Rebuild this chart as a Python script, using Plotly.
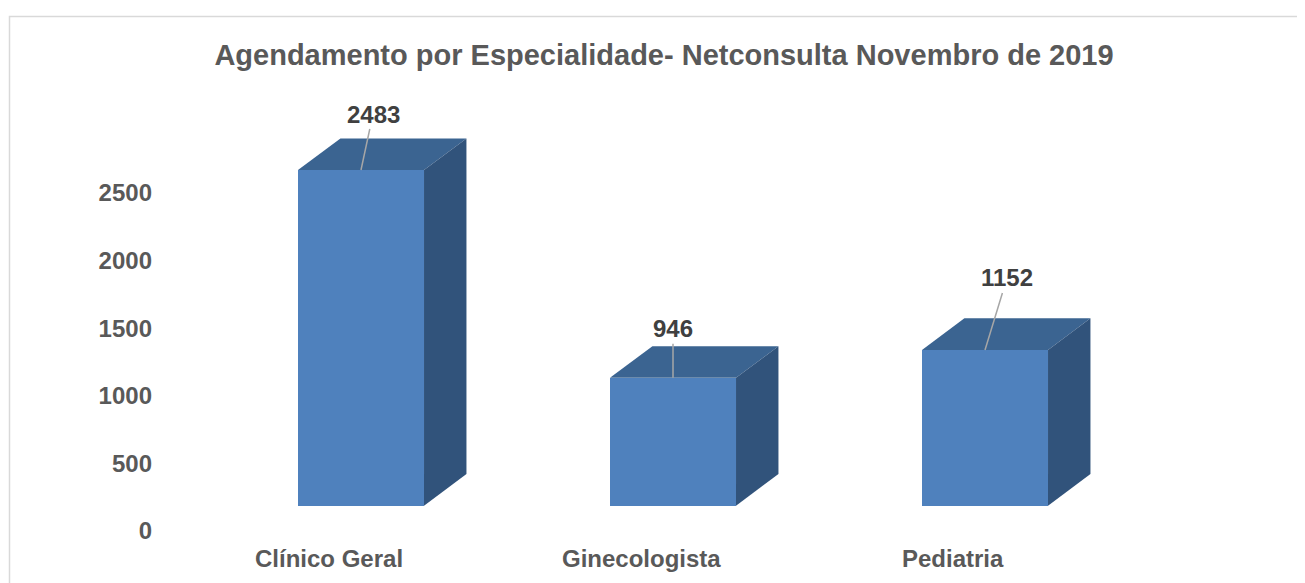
import plotly.graph_objects as go

categories = ["Clínico Geral", "Ginecologista", "Pediatria"]
values = [2483, 946, 1152]
y_ticks = [0, 500, 1000, 1500, 2000, 2500]
title_text = "Agendamento por Especialidade- Netconsulta Novembro de 2019"

# style / geometry constants
BASE = 187          # floor offset of front faces (3D look)
BAR_W = 0.404
DX = 0.136          # depth in x units
DY = 234            # depth in y units
FRONT = "#4F81BD"
TOP = "#3B6491"
SIDE = "#31537B"
LABEL_SHIFT = -0.101
label_offsets = [(12, -56), (0, -49), (22, -72)]
label_points = [0.0, 0.0, 0.0]

OFF = 8  # page body margin
W, H = 1305 - OFF, 583 - OFF
L, R, T, B = 160 - OFF, 15, 80 - OFF, 52
pw = W - L - R
ph = H - T - B
x_range = [-(361 - 160) / 312, -(361 - 160) / 312 + pw / 312]
y_range = [0, ph / 0.1352]

FONT = "Liberation Sans, Arial"

fig = go.Figure()

fig.add_trace(go.Bar(
    x=list(range(len(values))), y=values, base=[BASE] * len(values),
    width=BAR_W, marker=dict(color=FRONT, line=dict(width=0)),
    hoverinfo="skip", showlegend=False))

for i, v in enumerate(values):
    x0, x1 = i - BAR_W / 2, i + BAR_W / 2
    yb, yt = BASE, BASE + v
    fig.add_trace(go.Scatter(
        x=[x0, x1, x1 + DX, x0 + DX, x0], y=[yt, yt, yt + DY, yt + DY, yt],
        fill="toself", fillcolor=TOP, mode="lines", line=dict(width=0, color=TOP),
        hoverinfo="skip", showlegend=False))
    fig.add_trace(go.Scatter(
        x=[x1, x1 + DX, x1 + DX, x1, x1], y=[yb, yb + DY, yt + DY, yt, yb],
        fill="toself", fillcolor=SIDE, mode="lines", line=dict(width=0, color=SIDE),
        hoverinfo="skip", showlegend=False))

annotations = []
for i, v in enumerate(values):
    ax, ay = label_offsets[i]
    annotations.append(dict(
        x=i + label_points[i], y=BASE + v, xref="x", yref="y",
        text=f"<b>{v}</b>", showarrow=True, arrowhead=0, arrowwidth=1.5,
        arrowcolor="#A6A6A6", ax=ax, ay=ay, standoff=0,
        font=dict(family=FONT, size=24, color="#404040")))
    annotations.append(dict(
        x=i + LABEL_SHIFT, y=0, xref="x", yref="paper", yanchor="middle",
        yshift=-27, text=f"<b>{categories[i]}</b>", showarrow=False,
        font=dict(family=FONT, size=24, color="#595959")))

fig.update_layout(
    width=W, height=H,
    margin=dict(l=L, r=R, t=T, b=B),
    paper_bgcolor="white", plot_bgcolor="white",
    title=dict(text=f"<b>{title_text}</b>", x=(664 - OFF) / W, xanchor="center",
               y=1 - (55 - OFF) / H, yanchor="middle",
               font=dict(family=FONT, size=29, color="#595959")),
    xaxis=dict(range=x_range, showticklabels=False, showgrid=False,
               zeroline=False, showline=False, fixedrange=True),
    yaxis=dict(range=y_range, tickvals=y_ticks, ticktext=[f"<b>{t}</b>" for t in y_ticks],
               showgrid=False, zeroline=False, showline=False,
               ticks="", ticklabelstandoff=7,
               tickfont=dict(family=FONT, size=24, color="#595959")),
    annotations=annotations,
    shapes=[dict(type="rect", xref="paper", yref="paper",
                 x0=(9.5 - 160) / pw, x1=(1320 - 160) / pw,
                 y0=(H - B - 600) / ph, y1=(H - B - (16.5 - OFF)) / ph,
                 line=dict(color="#D9D9D9", width=1.5), layer="below")],
    bargap=0,
)

fig.write_html("out.html")
